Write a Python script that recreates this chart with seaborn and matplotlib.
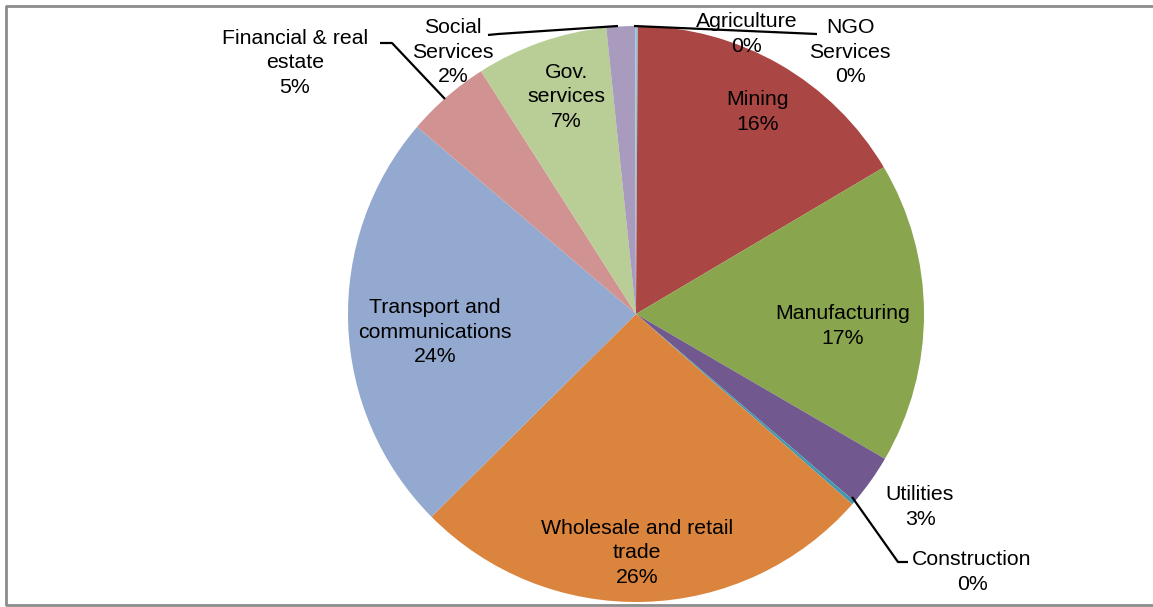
import matplotlib
matplotlib.use("Agg")
import matplotlib.pyplot as plt
from matplotlib.patches import Rectangle
import seaborn as sns

sns.set_theme(style="white")
plt.rcParams['font.family'] = ['Liberation Sans', 'DejaVu Sans']

# Share of output by sector (percent), clockwise from 12 o'clock
sectors = ["Agriculture", "Mining", "Manufacturing", "Utilities", "Construction",
           "Wholesale and retail trade", "Transport and communications",
           "Financial & real estate", "Gov. services", "Social Services", "NGO Services"]
shares = [0.1, 16.4, 16.9, 2.9, 0.2, 26.1, 23.7, 4.7, 7.4, 1.6, 0.05]
colors = ["#93C4D9", "#AA4643", "#89A54E", "#71588F", "#4198AF", "#DB843D",
          "#93A9CF", "#D19392", "#B9CD96", "#A99BBD", "#92CDDC"]
label_text = ["Agriculture", "Mining", "Manufacturing", "Utilities", "Construction",
              "Wholesale and retail\ntrade", "Transport and\ncommunications",
              "Financial & real\nestate", "Gov.\nservices", "Social\nServices",
              "NGO\nServices"]
# label anchor positions in pixels (x, y from top)
label_pos = [(747, 34), (758, 112), (843, 326), (920, 507), (972, 572),
             (637, 553), (435, 332), (295, 63), (566, 97), (453, 52), (850, 52)]

W, H = 1153, 607
fig = plt.figure(figsize=(W / 100, H / 100), dpi=100, facecolor="white")
fig.patch.set_linewidth(0)
ax = fig.add_axes([0, 0, 1, 1])

cx, cy, r = 636, 314, 288
ax.pie(shares, colors=colors, startangle=90, counterclock=False,
       center=(cx, H - cy), radius=r, wedgeprops=dict(linewidth=0),
       frame=True)
ax.set_xlim(0, W)
ax.set_ylim(0, H)
ax.set_aspect("equal")
ax.set_axis_off()

total = sum(shares)
for txt, v, (lx, ly) in zip(label_text, shares, label_pos):
    pct = f"{v / total * 100:.0f}%"
    ax.text(lx, H - ly, f"{txt}\n{pct}", ha="center", va="center",
            fontsize=15.3, color="black", linespacing=1.36)

# leader lines (pixel coordinates, y from top)
leaders = [
    [(380, 43), (392, 43), (445, 99)],
    [(488, 35), (498, 34), (618, 26)],
    [(634, 26), (817, 34)],
    [(852, 497), (898, 562), (908, 562)],
]
for pts in leaders:
    xs = [p[0] for p in pts]
    ys = [H - p[1] for p in pts]
    ax.plot(xs, ys, color="black", linewidth=1.6, solid_capstyle="butt")

# chart-area border (open on the right)
ax.plot([W + 20, 6, 6, W + 20], [H - 6, H - 6, 2, 2], color="#8C8C8C",
        linewidth=2, clip_on=False)

# keep the right edge clear of any frame
fig.patches.append(Rectangle((1 - 8 / W, 8 / H), 8 / W, 1 - 16 / H,
                             transform=fig.transFigure, facecolor="white",
                             edgecolor="none", zorder=10))

fig.savefig("out.png", dpi=100, facecolor="white", edgecolor="none")
